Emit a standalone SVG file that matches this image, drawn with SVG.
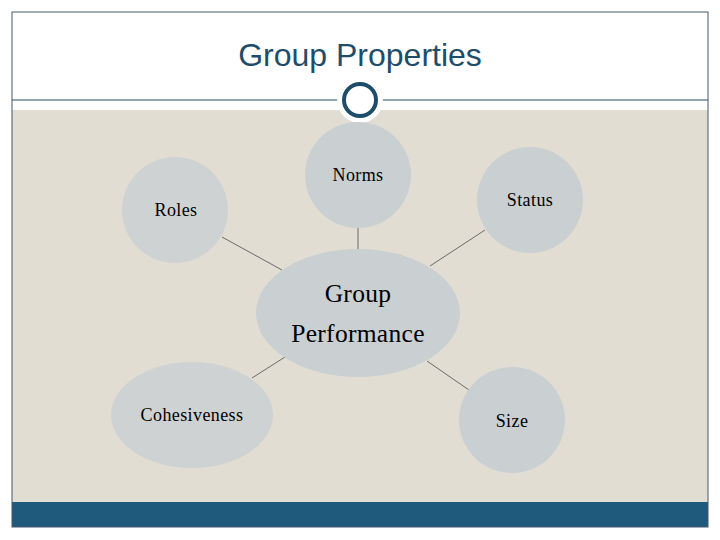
<svg xmlns="http://www.w3.org/2000/svg" width="720" height="540" viewBox="0 0 720 540">
<style>
.node{fill:#cacfd2}
.nodeL{fill:#cfd2d3}
text.lbl{font-size:18px;letter-spacing:0.4px;fill:#000;text-anchor:middle}
text.big{font-size:25.5px;letter-spacing:0.3px}
.conn line{stroke:#6a6a6a;stroke-width:1}
</style>
<rect x="0" y="0" width="720" height="540" fill="#ffffff"/>
<rect x="12" y="110" width="696" height="392" fill="#e2ddd3"/>
<rect x="12" y="502" width="696" height="25" fill="#1f5a7c"/>
<rect x="12" y="12" width="696" height="515" fill="none" stroke="#44596a" stroke-width="1"/>
<line x1="12" y1="100" x2="708" y2="100" stroke="#2a4f66" stroke-width="1.2"/>
<text x="360" y="66" font-family="Liberation Sans, Arial, sans-serif" font-size="32" fill="#1e4d6b" text-anchor="middle">Group Properties</text>
<circle cx="360" cy="100" r="23" fill="#ffffff"/>
<circle cx="360" cy="100" r="16" fill="#ffffff" stroke="#1e4d6b" stroke-width="4"/>
<g class="conn" id="connectors">
<line x1="222" y1="237" x2="282" y2="270"/>
<line x1="358" y1="228" x2="358" y2="249"/>
<line x1="485" y1="230" x2="430" y2="266"/>
<line x1="285" y1="357" x2="252" y2="378"/>
<line x1="427" y1="361" x2="469" y2="390"/>
</g>
<g font-family="Liberation Serif, Times New Roman, DejaVu Serif, serif">
<g id="norms"><circle class="node" cx="358" cy="175" r="53"/><text class="lbl" x="358" y="181">Norms</text></g>
<g id="roles"><circle class="nodeL" cx="175" cy="210" r="53"/><text class="lbl" x="176" y="216">Roles</text></g>
<g id="status"><circle class="node" cx="530" cy="200" r="53"/><text class="lbl" x="530" y="206">Status</text></g>
<g id="group-performance"><ellipse class="node" cx="358" cy="313" rx="102" ry="64"/><text class="lbl big" x="358" y="302">Group</text><text class="lbl big" x="358" y="342">Performance</text></g>
<g id="cohesiveness"><ellipse class="nodeL" cx="192" cy="415" rx="81" ry="53"/><text class="lbl" x="192" y="421">Cohesiveness</text></g>
<g id="size"><circle class="node" cx="512" cy="420" r="53"/><text class="lbl" x="512" y="427">Size</text></g>
</g>
</svg>
